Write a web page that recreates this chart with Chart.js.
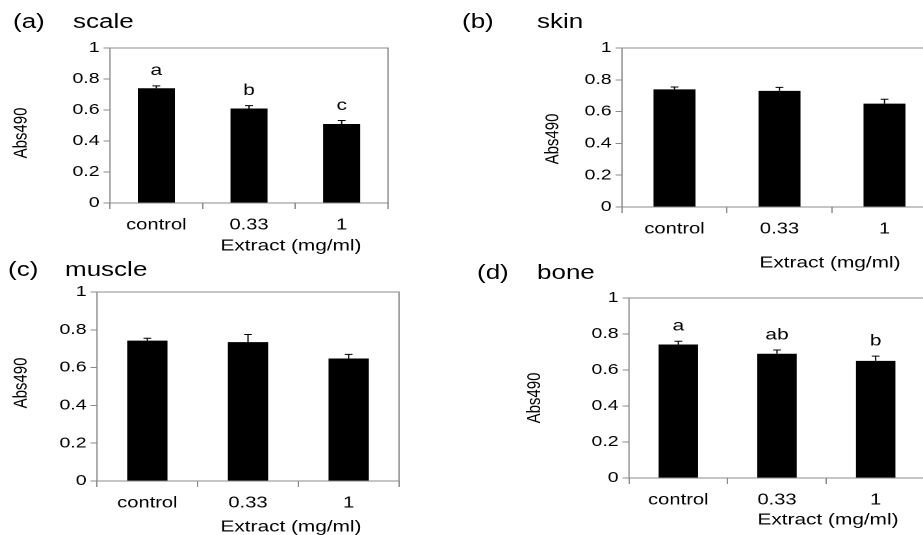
<!DOCTYPE html>
<html>
<head>
<meta charset="utf-8">
<script src="https://cdn.jsdelivr.net/npm/chart.js@4.4.1/dist/chart.umd.min.js"></script>
<style>
  html, body { margin:0; padding:0; background:#fff; overflow:hidden; width:923px; height:535px; }
  #wrap { position:absolute; left:0; top:0; height:535px; transform-origin:0 0; }
  canvas { position:absolute; }
  .ptitle { position:absolute; font-family:'Liberation Sans', Arial, sans-serif; font-size:20px; color:#000; white-space:nowrap; line-height:22px; }
</style>
</head>
<body>
<div id="wrap"></div>
<script>
// ---------- data ----------
const categories = ['control', '0.33', '1'];
const yTicks = [0, 0.2, 0.4, 0.6, 0.8, 1];
const yTickLabels = ['0', '0.2', '0.4', '0.6', '0.8', '1'];
const xAxisTitle = 'Extract (mg/ml)';
const yAxisTitle = 'Abs490';

const scaleValues = [0.74, 0.61, 0.51];
const scaleErrors = [0.016, 0.018, 0.022];
const scaleLetters = ['a', 'b', 'c'];

const skinValues = [0.74, 0.73, 0.65];
const skinErrors = [0.015, 0.022, 0.028];
const skinLetters = ['', '', ''];

const muscleValues = [0.743, 0.735, 0.648];
const muscleErrors = [0.012, 0.04, 0.022];
const muscleLetters = ['', '', ''];

const boneValues = [0.742, 0.69, 0.651];
const boneErrors = [0.018, 0.021, 0.026];
const boneLetters = ['a', 'ab', 'b'];

// ---------- layout ----------
const S = 1.3; // horizontal stretch of the original figure
const FONT = "'Liberation Sans', Arial, sans-serif";
const GRAY = '#8a8a8a';

const panels = [
  { tag:'(a)', name:'scale', values:scaleValues, errors:scaleErrors, letters:scaleLetters,
    plot:{L:110, T:48, R:388, B:203}, head:{x1:13, x2:73, y:21}, xt:{x:291, y:246}, yt:{x:21, y:133} },
  { tag:'(b)', name:'skin', values:skinValues, errors:skinErrors, letters:skinLetters,
    plot:{L:622, T:48, R:937, B:207}, head:{x1:462, x2:537, y:21}, xt:{x:830, y:263}, yt:{x:553, y:139} },
  { tag:'(c)', name:'muscle', values:muscleValues, errors:muscleErrors, letters:muscleLetters,
    plot:{L:97, T:292, R:399, B:481}, head:{x1:8, x2:65, y:269}, xt:{x:291, y:527}, yt:{x:21, y:383} },
  { tag:'(d)', name:'bone', values:boneValues, errors:boneErrors, letters:boneLetters,
    plot:{L:629, T:298, R:925, B:478}, head:{x1:477, x2:537, y:272}, xt:{x:828, y:520}, yt:{x:535, y:398} }
];

const wrap = document.getElementById('wrap');
wrap.style.width = (923 / S) + 'px';
wrap.style.transform = 'scaleX(' + S + ')';

function addText(txt, x, y) {
  const d = document.createElement('div');
  d.className = 'ptitle';
  d.textContent = txt;
  d.style.left = (x / S) + 'px';
  d.style.top = (y - 11) + 'px';
  wrap.appendChild(d);
}

function build(p) {
  addText(p.tag, p.head.x1, p.head.y);
  addText(p.name, p.head.x2, p.head.y);

  const Lu = p.plot.L / S, Ru = p.plot.R / S;
  const padT = 20, padB = 75, padR = 4;
  const cl = Math.floor(Lu - 100);
  const yW = Lu - cl;
  const ct = p.plot.T - padT;
  const cw = Math.ceil(Ru - cl + padR);
  const ch = p.plot.B - p.plot.T + padT + padB;
  const rightPad = cw - (Ru - cl);

  const cv = document.createElement('canvas');
  cv.style.left = cl + 'px';
  cv.style.top = ct + 'px';
  cv.width = cw; cv.height = ch;
  cv.style.width = cw + 'px'; cv.style.height = ch + 'px';
  wrap.appendChild(cv);

  const deco = {
    id: 'deco',
    afterDatasetsDraw(chart) {
      const ctx = chart.ctx, a = chart.chartArea;
      const ys = chart.scales.y;
      const meta = chart.getDatasetMeta(0);
      ctx.save();
      // frame
      ctx.strokeStyle = GRAY; ctx.lineWidth = 1;
      ctx.strokeRect(a.left, a.top, a.right - a.left, a.bottom - a.top);
      // error bars + letters
      ctx.strokeStyle = '#000'; ctx.lineWidth = 1;
      meta.data.forEach((bar, i) => {
        const v = p.values[i], e = p.errors[i];
        const y0 = ys.getPixelForValue(v), y1 = ys.getPixelForValue(v + e);
        ctx.beginPath();
        ctx.moveTo(bar.x, y0); ctx.lineTo(bar.x, y1);
        ctx.moveTo(bar.x - 3, y1); ctx.lineTo(bar.x + 3, y1);
        ctx.stroke();
        if (p.letters[i]) {
          ctx.fillStyle = '#000';
          ctx.font = '16px ' + FONT;
          ctx.textAlign = 'center'; ctx.textBaseline = 'middle';
          ctx.fillText(p.letters[i], bar.x, y1 - 15);
        }
      });
      // axis titles
      ctx.fillStyle = '#000';
      ctx.font = '16px ' + FONT;
      ctx.textAlign = 'center'; ctx.textBaseline = 'middle';
      ctx.fillText(xAxisTitle, p.xt.x / S - cl, p.xt.y - ct);
      ctx.translate(p.yt.x / S - cl, p.yt.y - ct);
      ctx.rotate(-Math.PI / 2);
      ctx.font = '15px ' + FONT;
      ctx.fillText(yAxisTitle, 0, 0);
      ctx.restore();
    }
  };

  new Chart(cv, {
    type: 'bar',
    data: {
      labels: categories,
      datasets: [{ data: p.values, backgroundColor: '#000', borderWidth: 0,
                   barPercentage: 0.4, categoryPercentage: 1.0 }]
    },
    options: {
      responsive: false, animation: false, devicePixelRatio: 2,
      layout: { padding: { left: 0, top: padT, right: rightPad, bottom: 0 } },
      plugins: { legend: { display: false }, tooltip: { enabled: false }, title: { display: false } },
      scales: {
        x: {
          offset: true,
          grid: { display: true, offset: true, drawOnChartArea: false, drawTicks: true, tickLength: 6, color: GRAY },
          border: { display: false },
          ticks: { color: '#000', font: { family: FONT, size: 15.5 }, padding: 7, maxRotation: 0, autoSkip: false },
          afterFit: s => { s.height = padB; }
        },
        y: {
          min: 0, max: 1,
          afterBuildTicks: ax => { ax.ticks = yTicks.map(v => ({ value: v })); },
          grid: { drawOnChartArea: false, drawTicks: true, tickLength: 5, color: GRAY },
          border: { display: false },
          ticks: { color: '#000', font: { family: FONT, size: 15 }, padding: 3,
                   callback: v => yTickLabels[yTicks.indexOf(Math.round(v * 10) / 10)] },
          afterFit: s => { s.width = yW; }
        }
      }
    },
    plugins: [deco]
  });
}

panels.forEach(build);
</script>
</body>
</html>
